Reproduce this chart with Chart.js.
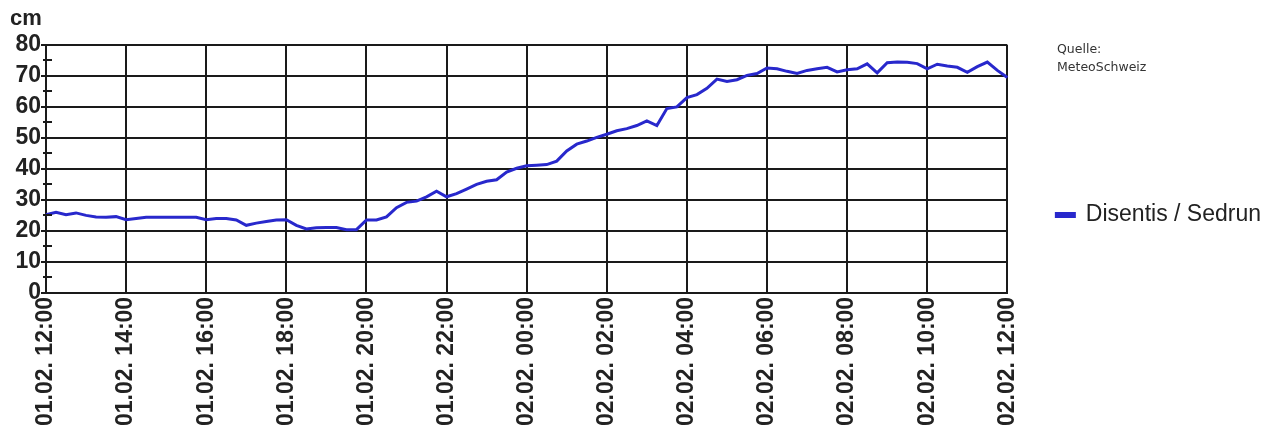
<!DOCTYPE html>
<html>
<head>
<meta charset="utf-8">
<script src="https://cdn.jsdelivr.net/npm/chart.js@4"></script>
<style>
  html, body { margin: 0; padding: 0; background: #fff; }
  #wrap { width: 1274px; height: 434px; }
</style>
</head>
<body>
<div id="wrap"><canvas id="c" width="1274" height="434"></canvas></div>
<script>
const times = [
  '12:00','12:15','12:30','12:45','13:00','13:15','13:30','13:45',
  '14:00','14:15','14:30','14:45','15:00','15:15','15:30','15:45',
  '16:00','16:15','16:30','16:45','17:00','17:15','17:30','17:45',
  '18:00','18:15','18:30','18:45','19:00','19:15','19:30','19:45',
  '20:00','20:15','20:30','20:45','21:00','21:15','21:30','21:45',
  '22:00','22:15','22:30','22:45','23:00','23:15','23:30','23:45',
  '00:00','00:15','00:30','00:45','01:00','01:15','01:30','01:45',
  '02:00','02:15','02:30','02:45','03:00','03:15','03:30','03:45',
  '04:00','04:15','04:30','04:45','05:00','05:15','05:30','05:45',
  '06:00','06:15','06:30','06:45','07:00','07:15','07:30','07:45',
  '08:00','08:15','08:30','08:45','09:00','09:15','09:30','09:45',
  '10:00','10:15','10:30','10:45','11:00','11:15','11:30','11:45',
  '12:00'
];
const snowDepth = [
  25.2, 26.0, 25.2, 25.8, 25.0, 24.5, 24.4, 24.6, 23.6, 24.0, 24.4, 24.4, 24.4, 24.4, 24.4, 24.4, 23.6,
  24.0, 24.0, 23.5, 21.8, 22.5, 23.0, 23.5, 23.6, 21.8, 20.6, 21.0, 21.1, 21.1, 20.4, 20.4, 23.5,
  23.5, 24.5, 27.5, 29.2, 29.6, 31.0, 32.8, 31.0, 32.0, 33.5, 35.0, 36.0, 36.5, 39.0, 40.2, 41.0,
  41.2, 41.4, 42.5, 45.8, 48.0, 49.0, 50.2, 51.2, 52.3, 53.0, 54.0, 55.5, 54.0, 59.5, 60.0, 63.0,
  64.0, 66.0, 69.0, 68.2, 68.8, 70.2, 70.8, 72.6, 72.3, 71.5, 70.8, 71.8, 72.3, 72.8, 71.3, 72.0,
  72.3, 73.9, 71.0, 74.3, 74.5, 74.4, 74.0, 72.3, 73.8, 73.2, 72.8, 71.2, 73.0, 74.5, 71.8, 69.5
];
const xTickLabels = [
  '01.02. 12:00','01.02. 14:00','01.02. 16:00','01.02. 18:00','01.02. 20:00','01.02. 22:00',
  '02.02. 00:00','02.02. 02:00','02.02. 04:00','02.02. 06:00','02.02. 08:00','02.02. 10:00','02.02. 12:00'
];
const yMinorTicks = [5, 15, 25, 35, 45, 55, 65, 75];
const seriesName = 'Disentis / Sedrun';
const sourceLines = ['Quelle:', 'MeteoSchweiz'];

const FONT = "'Liberation Sans', Arial, Helvetica, sans-serif";
const GRID = '#1a1a1a';

const extras = {
  id: 'extras',
  afterDraw(chart) {
    const ctx = chart.ctx;
    const y = chart.scales.y;
    const left = chart.chartArea.left;
    ctx.save();
    ctx.strokeStyle = GRID;
    ctx.lineWidth = 2;
    yMinorTicks.forEach(v => {
      const py = Math.round(y.getPixelForValue(v));
      ctx.beginPath();
      ctx.moveTo(left - 3, py);
      ctx.lineTo(left + 6, py);
      ctx.stroke();
    });
    ctx.fillStyle = '#333';
    ctx.font = "12.5px 'DejaVu Sans', sans-serif";
    ctx.textBaseline = 'alphabetic';
    ctx.textAlign = 'left';
    sourceLines.forEach((t, i) => ctx.fillText(t, 1057, 53 + i * 18));
    ctx.restore();
  }
};

new Chart(document.getElementById('c'), {
  type: 'line',
  data: {
    labels: times,
    datasets: [{
      label: seriesName,
      data: snowDepth,
      borderColor: '#2828cc',
      backgroundColor: '#2828cc',
      borderWidth: 3,
      pointRadius: 0,
      tension: 0,
      fill: false
    }]
  },
  options: {
    responsive: false,
    animation: false,
    layout: { padding: { left: 10, right: 3, top: 0, bottom: 4 } },
    plugins: {
      title: {
        display: true,
        text: 'cm',
        align: 'start',
        color: '#222',
        font: { family: FONT, size: 22, weight: 'bold' },
        padding: { top: 6, bottom: 12.6 }
      },
      legend: {
        position: 'right',
        align: 'center',
        labels: {
          boxWidth: 18,
          boxHeight: 3,
          padding: 49,
          color: '#222',
          font: { family: FONT, size: 23 }
        }
      },
      tooltip: { enabled: false }
    },
    scales: {
      x: {
        type: 'category',
        offset: false,
        border: { display: true, color: GRID, width: 2 },
        grid: {
          color: GRID,
          lineWidth: 2,
          drawTicks: false
        },
        ticks: {
          autoSkip: false,
          minRotation: 90,
          maxRotation: 90,
          padding: 4,
          color: '#222',
          font: { family: FONT, size: 23, weight: 'bold' },
          callback: (val, i) => (i % 8 === 0 ? xTickLabels[i / 8] : null)
        }
      },
      y: {
        min: 0,
        max: 80,
        border: { display: true, color: GRID, width: 2 },
        grid: {
          color: c => (c.tick && c.tick.value % 10 === 0 ? GRID : 'rgba(0,0,0,0)'),
          lineWidth: 2,
          tickLength: 5
        },
        ticks: {
          stepSize: 5,
          padding: 0,
          color: '#222',
          font: { family: FONT, size: 23, weight: 'bold' },
          callback: v => (v % 10 === 0 ? String(v) : '')
        },
        afterFit: s => { s.width = 36; }
      }
    }
  },
  plugins: [extras]
});
</script>
</body>
</html>
